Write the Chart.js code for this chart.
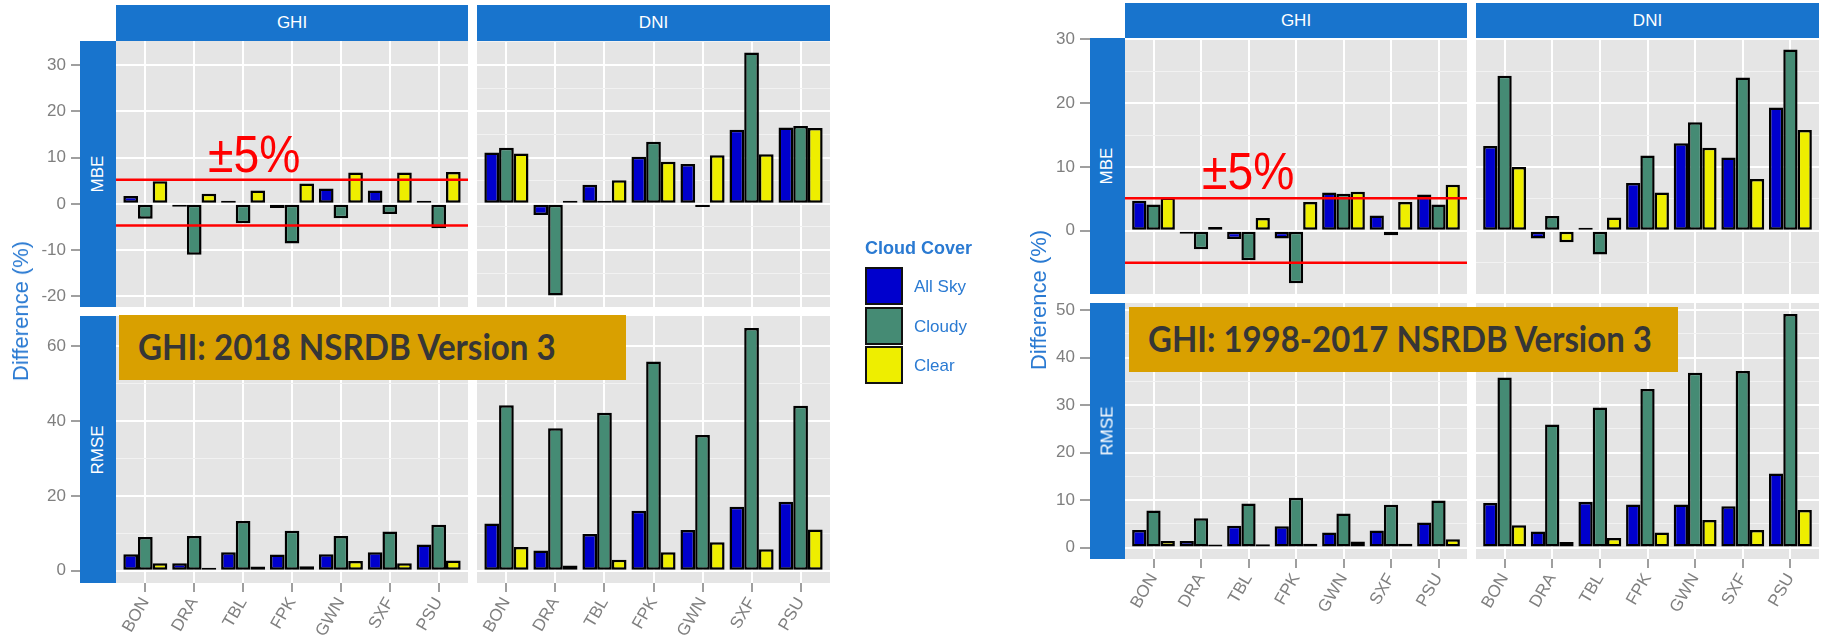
<!DOCTYPE html>
<html>
<head>
<meta charset="utf-8">
<script src="https://cdn.jsdelivr.net/npm/chart.js@4/dist/chart.umd.min.js"></script>
<style>
  body { margin: 0; width: 1823px; height: 641px; background: #fff; position: relative; overflow: hidden; font-family: "Liberation Sans", Arial, sans-serif; }
  canvas { position: absolute; }
  .strip { position: absolute; background: #1874cd; color: #fff; font-size: 17px; display: flex; align-items: center; justify-content: center; }
  .strip span { white-space: nowrap; }
  .strip.side span { transform: rotate(-90deg); }
  .ytitle { position: absolute; color: #2a7ad2; font-size: 22px; white-space: nowrap; transform: translate(-50%, -50%) rotate(-90deg); }
  .limit { position: absolute; color: #ff0000; font-size: 52px; line-height: 52px; transform: scaleX(0.89); transform-origin: left top; white-space: nowrap; }
  .banner { position: absolute; background: #d9a000; }
  .banner span { position: absolute; font-family: Lato, "Open Sans", sans-serif; font-weight: bold; font-size: 36px; color: #363636; white-space: nowrap; line-height: 1; transform-origin: left top; }
  .legend { position: absolute; left: 865px; top: 238px; color: #2a7ad2; }
  .legend .title { font-weight: bold; font-size: 18px; margin-bottom: 8px; white-space: nowrap; }
  .legend .item { position: relative; height: 39.5px; }
  .legend .key { position: absolute; left: 0; top: 0; width: 38px; height: 38px; box-sizing: border-box; border: 2.5px solid #111; }
  .legend .lab { position: absolute; left: 49px; top: 10px; font-size: 17px; white-space: nowrap; }
</style>
</head>
<body>

<!-- left figure: 2018 -->
<div class="strip" style="left:116px;top:5px;width:352px;height:36px"><span>GHI</span></div>
<div class="strip" style="left:477px;top:5px;width:353px;height:36px"><span>DNI</span></div>
<div class="strip side" style="left:80px;top:41px;width:36px;height:266px"><span>MBE</span></div>
<div class="strip side" style="left:80px;top:316px;width:36px;height:267px"><span>RMSE</span></div>
<div class="ytitle" style="left:21px;top:311px">Difference (%)</div>

<!-- right figure: 1998-2017 -->
<div class="strip" style="left:1125px;top:3px;width:342px;height:35px"><span>GHI</span></div>
<div class="strip" style="left:1476px;top:3px;width:343px;height:35px"><span>DNI</span></div>
<div class="strip side" style="left:1090px;top:38px;width:35px;height:256px"><span>MBE</span></div>
<div class="strip side" style="left:1090px;top:303px;width:35px;height:256px"><span>RMSE</span></div>
<div class="ytitle" style="left:1039px;top:300px">Difference (%)</div>

<div class="legend" id="legend">
  <div class="title">Cloud Cover</div>
</div>

<div class="limit" style="left:208px;top:128px">±5%</div>
<div class="limit" style="left:1202px;top:145px">±5%</div>

<div class="banner" style="left:119px;top:315px;width:507px;height:65px"><span id="b1" style="left:19px;top:13px">GHI: 2018 NSRDB Version 3</span></div>
<div class="banner" style="left:1129px;top:307px;width:549px;height:65px"><span id="b2" style="left:19px;top:13px">GHI: 1998-2017 NSRDB Version 3</span></div>

<script>
const stations = ["BON", "DRA", "TBL", "FPK", "GWN", "SXF", "PSU"];
const coverNames = ["All Sky", "Cloudy", "Clear"];
const coverColors = ["#0000cd", "#458b74", "#eeee00"];

// 2018 NSRDB v3, rows = All Sky, Cloudy, Clear
const mbeGhi2018 = [
  [1.7, -0.6, 0.2, -0.9, 3.3, 2.9, 0.4],
  [-3.2, -11.0, -4.2, -8.6, -3.1, -2.2, -5.3],
  [4.9, 2.2, 2.9, 4.4, 6.8, 6.8, 6.9]
];
const mbeDni2018 = [
  [11.1, -2.4, 4.1, 10.2, 8.6, 16.0, 16.5],
  [12.1, -19.8, 0.3, 13.4, -0.7, 32.7, 16.8],
  [10.9, 0.6, 5.1, 9.1, 10.5, 10.7, 16.4]
];
const rmseGhi2018 = [
  [4.4, 2.0, 4.9, 4.3, 4.4, 4.9, 7.0],
  [9.0, 9.3, 13.3, 10.7, 9.3, 10.5, 12.3],
  [2.0, 0.6, 1.1, 1.2, 2.6, 2.0, 2.7]
];
const rmseDni2018 = [
  [12.6, 5.4, 9.8, 16.0, 10.9, 17.1, 18.4],
  [44.2, 38.1, 42.2, 55.9, 36.3, 64.9, 44.1],
  [6.3, 1.4, 2.9, 4.9, 7.6, 5.7, 11.0]
];

// 1998-2017 NSRDB v3
const mbeGhiHist = [
  [4.7, -0.1, -1.3, -1.2, 6.0, 2.4, 5.7],
  [4.1, -2.9, -4.6, -8.2, 5.8, -0.7, 4.1],
  [5.2, 0.6, 2.0, 4.5, 6.1, 4.5, 7.2]
];
const mbeDniHist = [
  [13.3, -1.2, 0.1, 7.5, 13.7, 11.5, 19.3],
  [24.3, 2.3, -3.7, 11.8, 17.0, 24.0, 28.4],
  [10.0, -1.8, 2.1, 6.0, 13.0, 8.1, 15.8]
];
const rmseGhiHist = [
  [3.7, 1.4, 4.6, 4.5, 3.2, 3.6, 5.3],
  [7.8, 6.2, 9.3, 10.5, 7.2, 9.0, 9.9],
  [1.4, 0.4, 0.7, 0.8, 1.3, 0.8, 1.75]
];
const rmseDniHist = [
  [9.4, 3.4, 9.6, 9.1, 9.1, 8.7, 15.6],
  [35.8, 25.9, 29.5, 33.4, 36.8, 37.2, 49.2],
  [4.7, 1.2, 2.0, 3.2, 5.8, 3.7, 7.9]
];

// axis limits and tick labels
const mbeRange2018 = [-22.3, 35.2];
const rmseRange2018 = [-3.3, 68.1];
const mbeRangeHist = [-9.9, 30.2];
const rmseRangeHist = [-2.4, 51.5];
const mbeTicks2018 = [-20, -10, 0, 10, 20, 30];
const rmseTicks2018 = [0, 20, 40, 60];
const mbeTicksHist = [0, 10, 20, 30];
const rmseTicksHist = [0, 10, 20, 30, 40, 50];

// the +-5% lines (as drawn)
const limits2018 = [5.2, -4.7];
const limitsHist = [5.1, -5.0];

Chart.defaults.font.family = "'Liberation Sans', Arial, sans-serif";

const panelBg = {
  id: "panelBg",
  beforeDraw(chart) {
    const { ctx, chartArea: a } = chart;
    ctx.save();
    ctx.fillStyle = "#e5e5e5";
    ctx.fillRect(a.left, a.top, a.width, a.height);
    ctx.restore();
  }
};

function tickList(major, range) {
  const step = major[1] - major[0];
  const out = major.map(v => ({ value: v }));
  for (let v = major[0] - step / 2; v < range[1]; v += step) {
    if (v > range[0]) out.push({ value: v });
  }
  return out.sort((a, b) => a.value - b.value);
}

function panel(box, rows, range, major, opt) {
  const padTop = 14;
  const axW = opt.yAxis ? 95 : 0;
  const axH = opt.xAxis ? 641 - (box.y + box.h) : 0;

  const cv = document.createElement("canvas");
  cv.width = box.w + axW;
  cv.height = box.h + padTop + axH;
  cv.style.left = (box.x - axW) + "px";
  cv.style.top = (box.y - padTop) + "px";
  document.body.insertBefore(cv, document.body.firstChild);

  const datasets = rows.map((vals, k) => ({
    type: "bar",
    label: coverNames[k],
    data: vals.map((v, i) => ({ x: i + 1, y: v })),
    backgroundColor: coverColors[k],
    borderColor: "#000",
    borderWidth: 2.5,
    borderSkipped: false,
    minBarLength: 3,
    categoryPercentage: 0.9,
    barPercentage: 1,
    order: 1
  }));
  (opt.limits || []).forEach(l => {
    datasets.push({
      type: "line",
      data: [{ x: 0.4, y: l }, { x: 7.6, y: l }],
      borderColor: "#ff0000",
      borderWidth: 2.5,
      pointRadius: 0,
      order: 0
    });
  });

  const isMajor = v => major.includes(v);

  new Chart(cv, {
    type: "bar",
    data: { datasets },
    plugins: [panelBg],
    options: {
      responsive: false,
      animation: false,
      events: [],
      layout: { padding: { top: padTop, left: 0, right: 0, bottom: 0 } },
      plugins: { legend: { display: false }, tooltip: { enabled: false } },
      scales: {
        x: {
          type: "linear",
          min: 0.4,
          max: 7.6,
          offset: false,
          afterBuildTicks: ax => { ax.ticks = stations.map((s, i) => ({ value: i + 1 })); },
          afterFit: ax => { ax.height = axH; ax.paddingLeft = 0; ax.paddingRight = 0; },
          border: { display: false },
          grid: {
            offset: false,
            color: "#ffffff",
            lineWidth: 2,
            drawTicks: !!opt.xAxis,
            tickLength: 9,
            tickColor: "#7f7f7f",
            tickWidth: 1.5
          },
          ticks: {
            display: !!opt.xAxis,
            autoSkip: false,
            minRotation: 60,
            maxRotation: 60,
            padding: 2,
            color: "#7f7f7f",
            font: { size: 17 },
            callback: v => stations[v - 1]
          }
        },
        y: {
          type: "linear",
          min: range[0],
          max: range[1],
          afterBuildTicks: ax => { ax.ticks = tickList(major, range); },
          afterFit: ax => { ax.width = axW; ax.paddingTop = 0; ax.paddingBottom = 0; },
          border: { display: false },
          grid: {
            color: c => (c.tick && isMajor(c.tick.value)) ? "#ffffff" : "#f2f2f2",
            lineWidth: c => (c.tick && isMajor(c.tick.value)) ? 2 : 1,
            drawTicks: !!opt.yAxis,
            tickLength: 45,
            tickColor: c => (c.tick && isMajor(c.tick.value)) ? "#7f7f7f" : "rgba(0,0,0,0)",
            tickWidth: 1.5
          },
          ticks: {
            display: !!opt.yAxis,
            padding: 5,
            color: "#7f7f7f",
            font: { size: 17 },
            callback: v => isMajor(v) ? String(v) : ""
          }
        }
      }
    }
  });
}

// left figure (2018)
panel({ x: 116, y: 41, w: 352, h: 266 }, mbeGhi2018, mbeRange2018, mbeTicks2018, { yAxis: true, limits: limits2018 });
panel({ x: 477, y: 41, w: 353, h: 266 }, mbeDni2018, mbeRange2018, mbeTicks2018, {});
panel({ x: 116, y: 316, w: 352, h: 267 }, rmseGhi2018, rmseRange2018, rmseTicks2018, { yAxis: true, xAxis: true });
panel({ x: 477, y: 316, w: 353, h: 267 }, rmseDni2018, rmseRange2018, rmseTicks2018, { xAxis: true });

// right figure (1998-2017)
panel({ x: 1125, y: 38, w: 342, h: 256 }, mbeGhiHist, mbeRangeHist, mbeTicksHist, { yAxis: true, limits: limitsHist });
panel({ x: 1476, y: 38, w: 343, h: 256 }, mbeDniHist, mbeRangeHist, mbeTicksHist, {});
panel({ x: 1125, y: 303, w: 342, h: 256 }, rmseGhiHist, rmseRangeHist, rmseTicksHist, { yAxis: true, xAxis: true });
panel({ x: 1476, y: 303, w: 343, h: 256 }, rmseDniHist, rmseRangeHist, rmseTicksHist, { xAxis: true });

// legend
const legend = document.getElementById("legend");
coverNames.forEach((name, k) => {
  const item = document.createElement("div");
  item.className = "item";
  item.innerHTML = `<div class="key" style="background:${coverColors[k]}"></div><div class="lab">${name}</div>`;
  legend.appendChild(item);
});

// banner text: keep the cap height, squeeze to the width seen in the picture
function fitText(id, target) {
  const el = document.getElementById(id);
  const ctx = document.createElement("canvas").getContext("2d");
  ctx.font = "bold 36px Lato";
  const w = ctx.measureText(el.textContent).width;
  el.style.transform = "scaleX(" + (target / w) + ")";
}
fitText("b1", 419);
fitText("b2", 505);
</script>
</body>
</html>
